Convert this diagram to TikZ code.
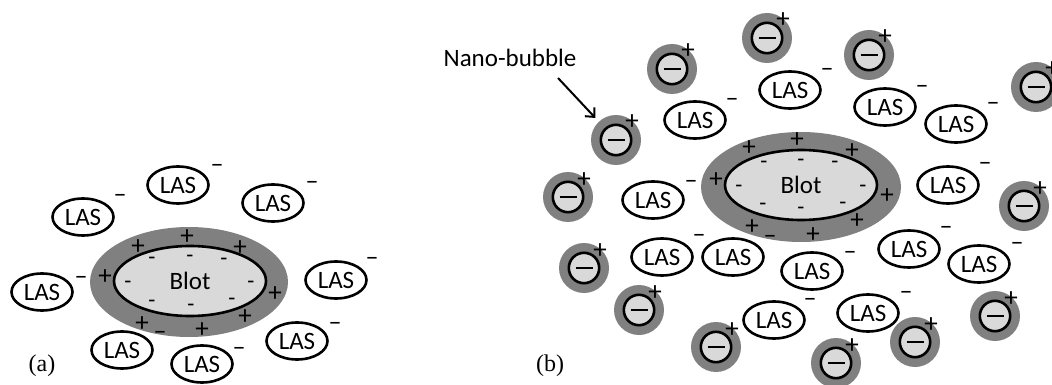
\documentclass[tikz,border=0pt]{standalone}
\usepackage{fontspec}
\setmainfont{Carlito}
\newfontfamily\panelfont{Liberation Serif}
\usetikzlibrary{shapes.geometric,arrows.meta}
\definecolor{shell}{HTML}{808080}
\definecolor{core}{HTML}{D9D9D9}

% LAS ion: name, centre x, centre y, charge x, charge y
\newcommand\lasion[5]{%
  \node[las] (#1) at (#2,#3) {LAS};
  \node[dashsign] (#1m) at (#4,#5) {\textendash};
}
% nano-bubble: name, centre x, centre y
\newcommand\nanob[3]{%
  \node[bubble] (#1) at (#2,#3) {};
  \node[plussign] (#1q) at (#2+16,#3-19) {+};
}

\begin{document}
\begin{tikzpicture}[x=1pt,y=-1pt,
  las/.style={ellipse, draw, line width=2.6pt, minimum width=61pt,
    minimum height=37pt, inner sep=0pt, font=\fontsize{25}{29}\selectfont},
  plussign/.style={inner sep=0pt, anchor=base, font=\fontsize{27}{31}\selectfont, yshift=-9pt},
  dashsign/.style={inner sep=0pt, anchor=base, font=\fontsize{26}{30}\selectfont, yshift=-7pt},
  hyph/.style={inner sep=0pt, anchor=base, font=\fontsize{23}{27}\selectfont, yshift=-5.8pt},
  shellshape/.style={ellipse, fill=shell, inner sep=0pt},
  coreshape/.style={ellipse, draw, fill=core, line width=2.6pt, inner sep=0pt,
    minimum width=152pt, minimum height=70pt, font=\fontsize{25}{29}\selectfont},
  bubble/.style={circle, fill=shell, minimum size=50pt, inner sep=0pt,
    path picture={
      \draw[line width=2.6pt, fill=core] (path picture bounding box.center) circle (15.2pt);
      \draw[line width=2.6pt] ([xshift=-8.5pt]path picture bounding box.center)
        -- ([xshift=8.5pt]path picture bounding box.center);
    }},
  panel/.style={inner sep=0pt, font=\panelfont\fontsize{24}{28}\selectfont},
]
\useasboundingbox (0,0) rectangle (1052,385);

% ---------- (a) ----------
\node[shellshape, minimum width=198pt, minimum height=110pt] (shellA) at (189,282) {};
\node[coreshape] (blotA) at (190,281) {Blot};
\foreach \x/\y [count=\i] in {138/245,187/235,240/246,105/275,275/292,245/315,142/322,202/328}
  \node[plussign] (pa\i) at (\x,\y) {+};
\foreach \x/\y [count=\i] in {152/259,190/257,224/260,128/283,251/283,152/302,191/306,232/300}
  \node[hyph] (ma\i) at (\x,\y) {-};

\lasion{la1}{83}{217}{120}{195}
\lasion{la2}{178}{185}{217}{165}
\lasion{la3}{273}{203}{312}{182}
\lasion{la4}{42}{292}{81}{277}
\lasion{la5}{336}{280}{372}{258}
\lasion{la6}{297}{341}{335}{323}
\lasion{la7}{202}{364}{239}{348}
\lasion{la8}{122}{350}{160}{332}

\node[panel] (capA) at (42,366) {(a)};

% ---------- (b) ----------
\node[shellshape, minimum width=200pt, minimum height=110pt] (shellB) at (801,187) {};
\node[coreshape] (blotB) at (801,185) {Blot};
\foreach \x/\y [count=\i] in {797/139,749/147,852/150,716/178,887/194,857/219,752/225,813/233}
  \node[plussign] (pb\i) at (\x,\y) {+};
\foreach \x/\y [count=\i] in {764/163,801/161,835/163,739/187,863/187,763/205,801/209,843/204}
  \node[hyph] (mb\i) at (\x,\y) {-};

\lasion{lb1}{695}{120}{732}{100}
\lasion{lb2}{790}{90}{827}{70}
\lasion{lb3}{885}{107}{922}{87}
\lasion{lb4}{956}{124}{993}{104}
\lasion{lb5}{948}{185}{985}{164}
\lasion{lb6}{653}{200}{691}{181}
\lasion{lb7}{662}{257}{699}{235}
\lasion{lb8}{733}{257}{770}{236}
\lasion{lb9}{812}{271}{850}{252}
\lasion{lb10}{909}{249}{946}{227}
\lasion{lb11}{979}{264}{1017}{243}
\lasion{lb12}{774}{320}{810}{299}
\lasion{lb13}{868}{313}{906}{292}

\nanob{nb1}{672}{69}
\nanob{nb2}{767}{38}
\nanob{nb3}{616}{140}
\nanob{nb4}{568}{197}
\nanob{nb5}{869}{55}
\nanob{nb6}{1036}{87}
\nanob{nb7}{584}{268}
\nanob{nb8}{639}{310}
\nanob{nb9}{716}{347}
\nanob{nb10}{1024}{206}
\nanob{nb11}{995}{316}
\nanob{nb12}{915}{342}
\nanob{nb13}{836}{363}

\node[inner sep=0pt, font=\fontsize{25}{29}\selectfont] (nbtext) at (510,58) {Nano-bubble};
\coordinate (nbtail) at (558,78);
\draw[line width=2pt, -{Straight Barb[length=7pt,width=13pt]}, shorten >=5pt] (nbtail) -- (nb3);

\node[panel] (capB) at (550,366) {(b)};
\end{tikzpicture}
\end{document}
